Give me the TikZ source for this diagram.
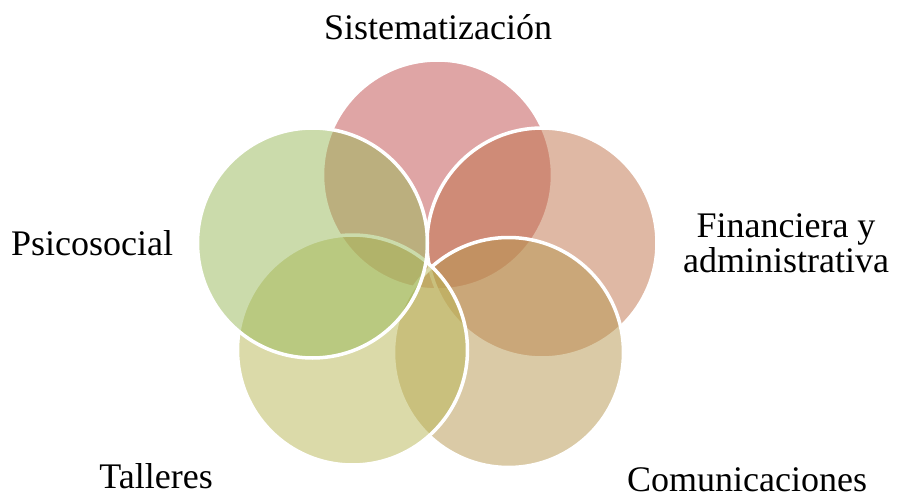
\documentclass[tikz,border=0pt]{standalone}
\usepackage{fontspec}
\setmainfont{Liberation Serif}
\definecolor{cTop}{RGB}{193,77,77}
\definecolor{cRight}{RGB}{193,115,75}
\definecolor{cBR}{RGB}{183,151,79}
\definecolor{cBL}{RGB}{185,183,85}
\definecolor{cLeft}{RGB}{153,185,89}
\begin{document}
\begin{tikzpicture}[x=1pt,y=-1pt,
  petal/.style={fill opacity=0.5, draw=white, draw opacity=1, line width=3.5pt},
  lbl/.style={font=\fontsize{36}{35}\selectfont, inner sep=0pt, text=black, align=center}]
\useasboundingbox (0,0) rectangle (898,495);
\fill[white] (0,0) rectangle (898,495);
\path[petal, fill=cTop]   (437.5,175) circle[radius=115];
\path[petal, fill=cRight] (542,243) circle[radius=115];
\path[petal, fill=cBR]    (508.5,352.5) circle[radius=115];
\path[petal, fill=cBL]    (352.5,350) circle[radius=115];
\path[petal, fill=cLeft]  (312.5,243) circle[radius=115];
\node[lbl, anchor=base] (sis) at (438,40) {Sistematización};
\node[lbl, anchor=base] (fin) at (786,272) {Financiera y\\administrativa};
\node[lbl, anchor=base] (psi) at (92,255) {Psicosocial};
\node[lbl, anchor=base] (tal) at (156,488) {Talleres};
\node[lbl, anchor=base] (com) at (747,491) {Comunicaciones};
\end{tikzpicture}
\end{document}
